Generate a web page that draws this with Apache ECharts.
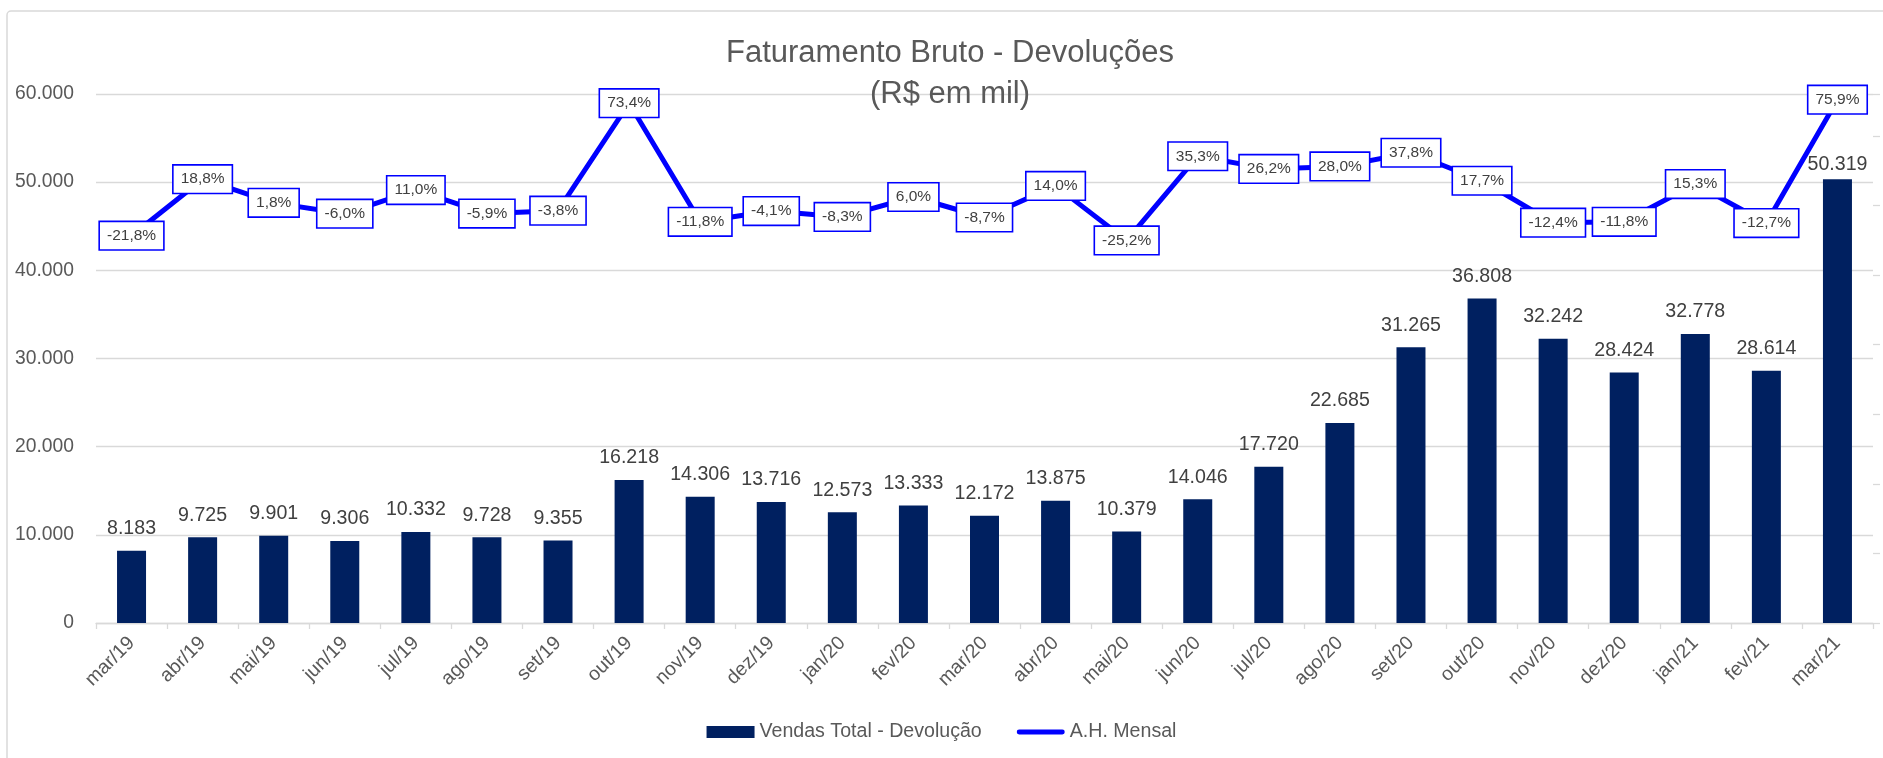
<!DOCTYPE html>
<html>
<head>
<meta charset="utf-8">
<script src="https://cdn.jsdelivr.net/npm/echarts@6/dist/echarts.min.js"></script>
<style>
html,body{margin:0;padding:0;background:#fff;}
#c{width:1883px;height:758px;}
</style>
</head>
<body>
<div id="c"></div>
<script>
const categories = ['mar/19','abr/19','mai/19','jun/19','jul/19','ago/19','set/19','out/19','nov/19','dez/19','jan/20','fev/20','mar/20','abr/20','mai/20','jun/20','jul/20','ago/20','set/20','out/20','nov/20','dez/20','jan/21','fev/21','mar/21'];
const vendas = [8183, 9725, 9901, 9306, 10332, 9728, 9355, 16218, 14306, 13716, 12573, 13333, 12172, 13875, 10379, 14046, 17720, 22685, 31265, 36808, 32242, 28424, 32778, 28614, 50319];
const ahMensal = [-21.8, 18.8, 1.8, -6.0, 11.0, -5.9, -3.8, 73.4, -11.8, -4.1, -8.3, 6.0, -8.7, 14.0, -25.2, 35.3, 26.2, 28.0, 37.8, 17.7, -12.4, -11.8, 15.3, -12.7, 75.9];
const leftTicks = [0, 10000, 20000, 30000, 40000, 50000, 60000];
const seriesNames = ['Vendas Total - Devolução', 'A.H. Mensal'];
const titleText = ['Faturamento Bruto - Devoluções', '(R$ em mil)'];

const FONT = 'Liberation Sans';
const thousands = v => String(v).replace(/\B(?=(\d{3})+(?!\d))/g, '.');
const pct = v => v.toFixed(1).replace('.', ',') + '%';

// the last bar's label sits a little closer to its bar in the original
const barData = vendas.map((v, i) => i === vendas.length - 1 ? {value: v, label: {distance: 5}} : v);

const chart = echarts.init(document.getElementById('c'), null, {renderer: 'canvas'});
chart.setOption({
  animation: false,
  backgroundColor: '#ffffff',
  textStyle: {fontFamily: FONT},
  graphic: [{
    type: 'rect', silent: true, z: -10,
    shape: {x: 7, y: 11, width: 1890, height: 770, r: 4},
    style: {fill: 'none', stroke: '#d9d9d9', lineWidth: 1.5}
  }],
  title: {
    text: titleText.join('\n'),
    left: 945, top: 28, textAlign: 'center',
    textStyle: {fontFamily: FONT, fontSize: 31, fontWeight: 'normal', color: '#595959', lineHeight: 41}
  },
  legend: {
    data: [
      {name: seriesNames[0], icon: 'rect'},
      {name: seriesNames[1], icon: 'path://M2.5,0 L47.5,0 A2.5,2.5 0 0 1 47.5,5 L2.5,5 A2.5,2.5 0 0 1 2.5,0 Z'}
    ],
    left: 'center', top: 717,
    itemWidth: 48, itemHeight: 12, itemGap: 35,
    textStyle: {fontFamily: FONT, fontSize: 19.6, color: '#595959'}
  },
  grid: {left: 96, right: 10, top: 94, bottom: 135, containLabel: false},
  xAxis: {
    type: 'category', data: categories, boundaryGap: true,
    axisLine: {lineStyle: {color: '#d9d9d9', width: 1.3}},
    axisTick: {show: true, length: 6, interval: 0, lineStyle: {color: '#d9d9d9', width: 1.3}},
    axisLabel: {interval: 0, rotate: 45, margin: 17, fontFamily: FONT, fontSize: 19.5, color: '#595959'}
  },
  yAxis: [{
    type: 'value', min: leftTicks[0], max: leftTicks[leftTicks.length - 1], interval: leftTicks[1] - leftTicks[0],
    axisLine: {show: false}, axisTick: {show: false},
    splitLine: {lineStyle: {color: '#d9d9d9', width: 1.3}},
    axisLabel: {margin: 22, fontFamily: FONT, fontSize: 19.3, color: '#595959', formatter: v => thousands(v)}
  }, {
    type: 'value', min: -300, max: 80, interval: 50, position: 'right',
    axisLine: {show: false},
    axisTick: {show: true, length: 7, lineStyle: {color: '#d9d9d9', width: 1.3}},
    axisLabel: {show: false}, splitLine: {show: false}
  }],
  series: [{
    name: seriesNames[0], type: 'bar', data: barData, yAxisIndex: 0,
    barWidth: 29,
    itemStyle: {color: '#002060'},
    label: {show: true, position: 'top', distance: 12, fontFamily: FONT, fontSize: 19.6, color: '#404040', formatter: p => thousands(p.value)}
  }, {
    name: seriesNames[1], type: 'line', data: ahMensal, yAxisIndex: 1,
    symbol: 'circle', symbolSize: 2, showSymbol: true,
    itemStyle: {color: '#0000ff'},
    lineStyle: {color: '#0000ff', width: 5},
    z: 5,
    label: {
      show: true, position: 'inside', fontFamily: FONT, fontSize: 15.5, color: '#404040', lineHeight: 17,
      backgroundColor: '#ffffff', borderColor: '#0000ff', borderWidth: 1.6, padding: [5, 7, 5, 7],
      formatter: p => pct(p.value)
    }
  }]
});
</script>
</body>
</html>
